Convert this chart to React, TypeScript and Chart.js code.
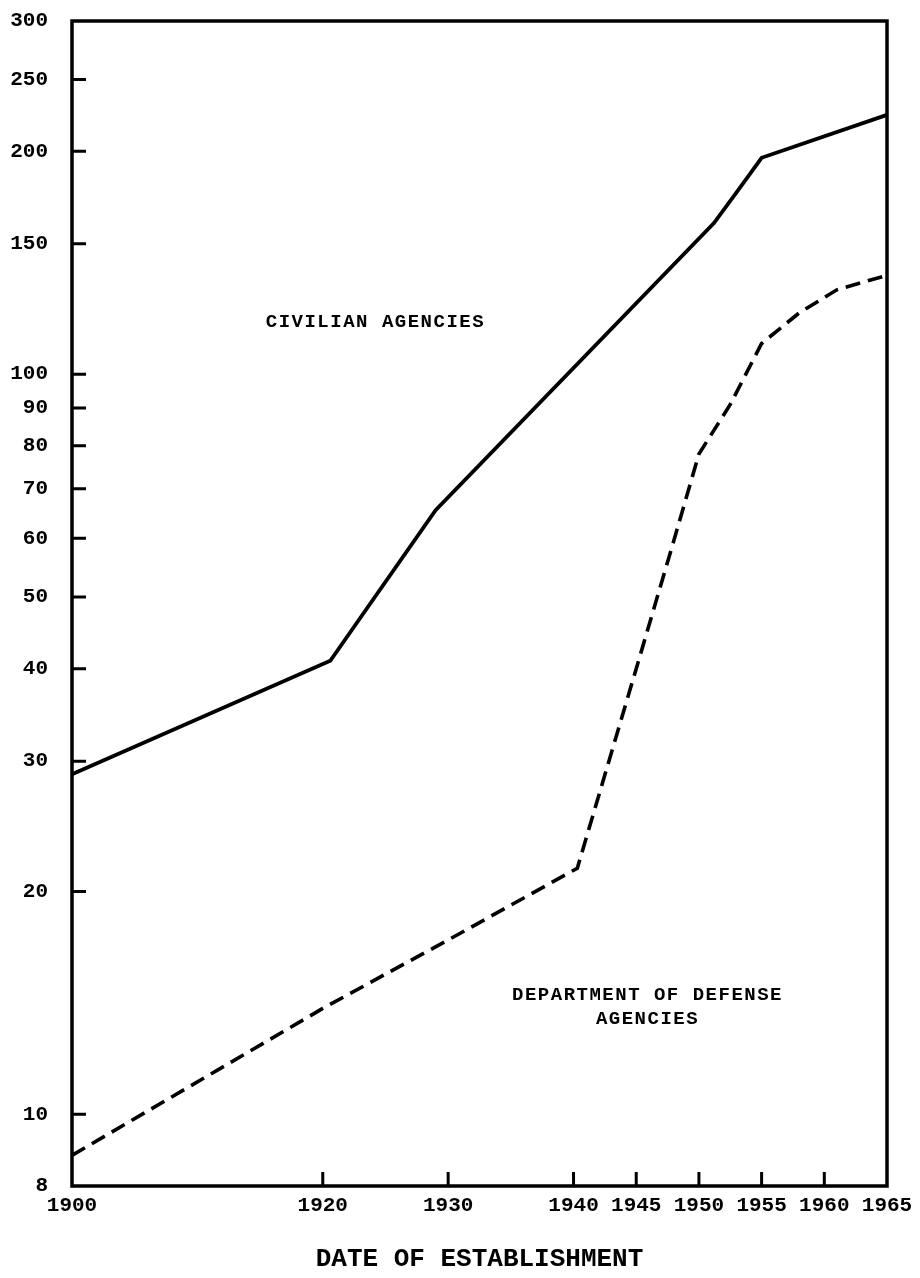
import React, { useEffect, useRef } from "react";
import { Chart, registerables } from "chart.js";

Chart.register(...registerables);

// ---- data ----
const CIV_YEARS = [1900, 1920.6, 1929, 1951.2, 1953, 1955, 1965];
const CIVILIAN = [28.8, 41, 65.5, 160, 176, 196, 224];

const DOD_YEARS = [1900, 1920, 1930, 1940.3, 1945, 1947.8, 1950, 1952.5, 1955, 1958, 1961, 1965];
const DEFENSE = [8.8, 13.9, 17.2, 21.5, 40, 58, 78, 91, 110, 121, 130, 136];

const X_TICKS = [1900, 1920, 1930, 1940, 1945, 1950, 1955, 1960, 1965];
const Y_TICKS = [8, 10, 20, 30, 40, 50, 60, 70, 80, 90, 100, 150, 200, 250, 300];

const X_TITLE = "DATE OF ESTABLISHMENT";
const CIV_LABEL = ["CIVILIAN AGENCIES"];
const DOD_LABEL = ["DEPARTMENT OF DEFENSE", "AGENCIES"];

const FONT = "'Liberation Mono', 'DejaVu Sans Mono', monospace";

const framePlugin = {
  id: "frame",
  afterDatasetsDraw(chart: any) {
    const { ctx, chartArea, scales } = chart;
    const { left, right, top, bottom } = chartArea;
    const x = scales.x;
    const y = scales.y;
    ctx.save();
    ctx.strokeStyle = "#000";
    ctx.lineWidth = 3.5;
    ctx.lineJoin = "miter";
    ctx.strokeRect(left, top, right - left, bottom - top);

    ctx.lineWidth = 3;
    ctx.beginPath();
    X_TICKS.forEach((v) => {
      if (v === x.min || v === x.max) return;
      const px = x.getPixelForValue(v);
      ctx.moveTo(px, bottom);
      ctx.lineTo(px, bottom - 14);
    });
    Y_TICKS.forEach((v) => {
      if (v === y.min || v === y.max) return;
      const py = y.getPixelForValue(v);
      ctx.moveTo(left, py);
      ctx.lineTo(left + 14, py);
    });
    ctx.stroke();

    // in-plot labels
    ctx.fillStyle = "#000";
    ctx.textAlign = "center";
    ctx.textBaseline = "middle";
    ctx.font = `bold 19px ${FONT}`;
    try {
      (ctx as any).letterSpacing = "1.5px";
    } catch (e) {}
    const drawLines = (lines: string[], xv: number, yv: number) => {
      const px = x.getPixelForValue(xv);
      const py = y.getPixelForValue(yv);
      lines.forEach((t, i) => ctx.fillText(t, px, py + i * 24));
    };
    drawLines(CIV_LABEL, 1924.2, 117.6);
    drawLines(DOD_LABEL, 1945.9, 14.5);
    ctx.restore();
  },
};

export default function App() {
  const ref = useRef<HTMLCanvasElement | null>(null);

  useEffect(() => {
    document.body.style.margin = "0";
    document.body.style.background = "#fff";
    const canvas = ref.current;
    if (!canvas) return;
    const chart = new Chart(canvas, {
      type: "line",
      data: {
        datasets: [
          {
            label: "Civilian agencies",
            data: CIV_YEARS.map((yr, i) => ({ x: yr, y: CIVILIAN[i] })),
            borderColor: "#000",
            borderWidth: 3.8,
            pointRadius: 0,
            fill: false,
            tension: 0,
            clip: false as any,
          },
          {
            label: "Department of Defense agencies",
            data: DOD_YEARS.map((yr, i) => ({ x: yr, y: DEFENSE[i] })),
            borderColor: "#000",
            borderWidth: 3.6,
            borderDash: [15, 8],
            pointRadius: 0,
            fill: false,
            tension: 0,
            clip: false as any,
          },
        ],
      },
      options: {
        animation: false,
        responsive: false,
        maintainAspectRatio: false,
        layout: { padding: { top: 21, right: 33, left: 0, bottom: 0 } },
        plugins: {
          legend: { display: false },
          tooltip: { enabled: false },
          title: { display: false },
        },
        scales: {
          x: {
            type: "linear",
            min: 1900,
            max: 1965,
            afterBuildTicks: (s: any) => {
              s.ticks = X_TICKS.map((v) => ({ value: v }));
            },
            afterFit: (s: any) => {
              s.height = 92;
              s.paddingLeft = 0;
              s.paddingRight = 0;
            },
            grid: { display: false, drawTicks: false },
            border: { display: false },
            ticks: {
              color: "#000",
              padding: 7,
              maxRotation: 0,
              autoSkip: false,
              font: { family: FONT, size: 21, weight: "bold" },
              callback: (v: any) => String(v),
            },
            title: {
              display: true,
              text: X_TITLE,
              color: "#000",
              font: { family: FONT, size: 26, weight: "bold" },
              padding: { top: 0, bottom: 3 },
            },
          },
          y: {
            type: "logarithmic",
            min: 8,
            max: 300,
            afterBuildTicks: (s: any) => {
              s.ticks = Y_TICKS.map((v) => ({ value: v }));
            },
            afterFit: (s: any) => {
              s.width = 72;
              s.paddingTop = 0;
              s.paddingBottom = 0;
            },
            grid: { display: false, drawTicks: false },
            border: { display: false },
            ticks: {
              color: "#000",
              padding: 24,
              autoSkip: false,
              font: { family: FONT, size: 21, weight: "bold" },
              callback: (v: any) => String(v),
            },
          },
        },
      },
      plugins: [framePlugin],
    });
    return () => chart.destroy();
  }, []);

  return (
    <div style={{ width: 920, height: 1278, background: "#fff" }}>
      <canvas ref={ref} width={920} height={1278} style={{ display: "block" }} />
    </div>
  );
}
